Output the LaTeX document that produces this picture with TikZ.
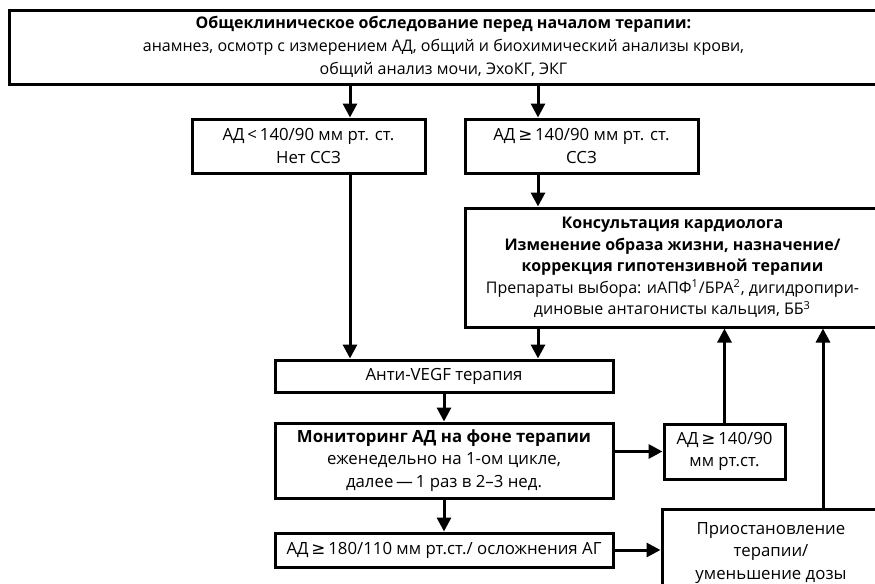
\documentclass[tikz,border=0pt]{standalone}
\usepackage{fontspec}
\setmainfont{Open Sans}
\newfontfamily\symfont{DejaVu Sans}
\usetikzlibrary{arrows.meta}
\newcommand{\geqsym}{\,{\symfont ≥}\,}
\newcommand{\supnum}[1]{\textsuperscript{\fontsize{5.5}{6}\selectfont #1}}

\begin{document}
\begin{tikzpicture}[x=0.5pt, y=-0.5pt,
    box/.style={draw, line width=1.5pt, align=center, inner sep=0pt,
      font=\fontsize{8.4}{11.3}\selectfont},
    arr/.style={line width=1.5pt, -{Triangle[length=7pt,width=7pt]}}]
      \useasboundingbox (0,0) rectangle (875,584);
      % columns of the vertical connectors
      \coordinate (lcol) at (350,0);
      \coordinate (rcol) at (538,0);
      \coordinate (ucol) at (823,0);
      \node[box, minimum width=434.5pt, minimum height=37pt,
        font=\fontsize{8}{11.5}\selectfont] (exam) at (443.5,47)
        {\textbf{Общеклиническое обследование перед началом терапии:}\\
         анамнез, осмотр с измерением АД, общий и биохимический анализы крови,\\
         общий анализ мочи, ЭхоКГ, ЭКГ};
      \node[box, minimum width=116.5pt, minimum height=27pt] (lowbp) at (308.5,146)
        {АД\,<\,140/90 мм рт. ст.\\ Нет ССЗ};
      \node[box, minimum width=116.5pt, minimum height=27pt] (highbp) at (581.5,146)
        {АД\geqsym140/90 мм рт. ст.\\ ССЗ};
      \node[box, minimum width=207.5pt, minimum height=59.5pt,
        font=\fontsize{8}{10.8}\selectfont] (cardio) at (672.5,267.5)
        {\textbf{Консультация кардиолога}\\
         \textbf{Изменение образа жизни, назначение/}\\
         \textbf{коррекция гипотензивной терапии}\\
         Препараты выбора: иАПФ\supnum{1}/БРА\supnum{2}, дигидропири-\\
         диновые антагонисты кальция, ББ\supnum{3}};
      \node[box, minimum width=169pt, minimum height=16pt] (vegf) at (444,376)
        {Анти-VEGF терапия};
      \node[box, minimum width=169pt, minimum height=37.5pt] (monitor) at (444,460.5)
        {\textbf{Мониторинг АД на фоне терапии}\\
         еженедельно на 1-ом цикле,\\
         далее\,—\,1 раз в 2–3 нед.};
      \node[box, minimum width=60.5pt, minimum height=27.5pt] (smallbp) at (724.5,451.5)
        {АД\geqsym140/90\\ мм рт.ст.};
      \node[box, minimum width=169pt, minimum height=17pt] (crisis) at (444,550)
        {АД\geqsym180/110 мм рт.ст./ осложнения АГ};
      \node[box, minimum width=109pt, minimum height=44pt] (pause) at (771,553)
        {Приостановление\\ терапии/\\ уменьшение дозы};
      \draw[arr] (exam.south -| lcol) -- (lowbp.north -| lcol);
      \draw[arr] (exam.south -| rcol) -- (highbp.north -| rcol);
      \draw[arr] (highbp.south -| rcol) -- (cardio.north -| rcol);
      \draw[arr] (lowbp.south -| lcol) -- (vegf.north -| lcol);
      \draw[arr] (cardio.south -| rcol) -- (vegf.north -| rcol);
      \draw[arr] (vegf) -- (monitor);
      \draw[arr] (monitor) -- (crisis);
      \draw[arr] (monitor.east |- smallbp) -- (smallbp.west);
      \draw[arr] (crisis.east) -- (crisis.east -| pause.west);
      \draw[arr] (smallbp.north) -- (cardio.south -| smallbp);
      \draw[arr] (pause.north -| ucol) -- (cardio.south -| ucol);
    \end{tikzpicture}
\end{document}
